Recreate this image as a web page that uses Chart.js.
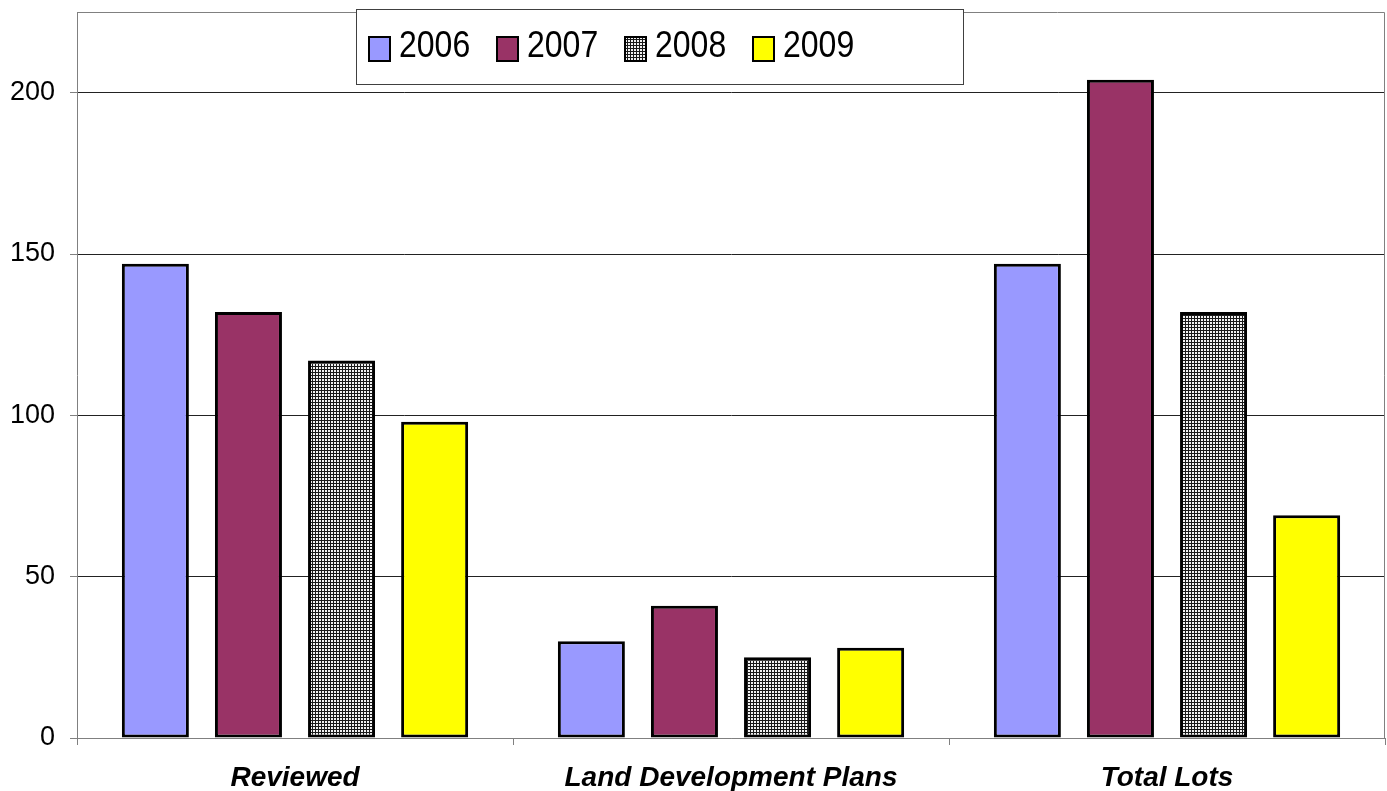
<!DOCTYPE html>
<html>
<head>
<meta charset="utf-8">
<script src="https://cdn.jsdelivr.net/npm/chart.js@4.4.1/dist/chart.umd.min.js"></script>
<style>
  html, body { margin: 0; padding: 0; background: #fff; }
  #wrap { width: 1387px; height: 791px; position: relative; }
</style>
</head>
<body>
<div id="wrap"><canvas id="c" width="1387" height="791"></canvas></div>
<script>
const categories = ['Reviewed', 'Land Development Plans', 'Total Lots'];
const seriesLabels = ['2006', '2007', '2008', '2009'];
const values2006 = [147, 30, 147];
const values2007 = [132, 41, 204];
const values2008 = [117, 25, 132];
const values2009 = [98, 28, 69];
const yTicks = [0, 50, 100, 150, 200];
const yMax = 225;

function makePattern() {
  const t = document.createElement('canvas');
  t.width = 3; t.height = 3;
  const g = t.getContext('2d');
  g.fillStyle = '#f2f2f2';
  g.fillRect(0, 0, 3, 3);
  g.fillStyle = '#1a1a1a';
  g.fillRect(0, 0, 3, 1);
  g.fillRect(0, 0, 1, 3);
  return document.getElementById('c').getContext('2d').createPattern(t, 'repeat');
}
const pattern2008 = makePattern();
const fills = ['#9999FF', '#993366', pattern2008, '#FFFF00'];
const seriesValues = [values2006, values2007, values2008, values2009];

const datasets = seriesLabels.map((lab, i) => ({
  label: lab,
  data: seriesValues[i],
  backgroundColor: fills[i],
  borderColor: '#000',
  borderWidth: 3,
  borderSkipped: false,
  categoryPercentage: 0.854,
  barPercentage: 0.72
}));

const frameAndLegend = {
  id: 'frameAndLegend',
  afterDraw(chart) {
    const ctx = chart.ctx;
    const a = chart.chartArea;
    ctx.save();
    ctx.strokeStyle = '#808080';
    ctx.lineWidth = 1;
    ctx.beginPath();
    ctx.moveTo(a.left, a.top + 0.5);
    ctx.lineTo(a.right - 0.5, a.top + 0.5);
    ctx.lineTo(a.right - 0.5, a.bottom);
    ctx.stroke();
    const bx = 356, by = 9, bw = 607, bh = 75;
    ctx.fillStyle = '#fff';
    ctx.fillRect(bx, by, bw, bh);
    ctx.strokeStyle = '#404040';
    ctx.strokeRect(bx + 0.5, by + 0.5, bw, bh);
    ctx.font = '32px "Liberation Sans", Arial, sans-serif';
    ctx.textBaseline = 'middle';
    ctx.textAlign = 'left';
    chart.data.datasets.forEach((ds, i) => {
      const sx = 369 + i * 128;
      const sy = 37;
      ctx.fillStyle = ds.backgroundColor;
      ctx.fillRect(sx, sy, 21, 24);
      ctx.strokeStyle = '#000';
      ctx.lineWidth = 2;
      ctx.strokeRect(sx, sy, 21, 24);
      ctx.fillStyle = '#000';
      ctx.save();
      ctx.translate(sx + 30, 47);
      ctx.scale(1, 1.15);
      ctx.fillText(ds.label, 0, 0);
      ctx.restore();
    });
    ctx.restore();
  }
};

new Chart(document.getElementById('c'), {
  type: 'bar',
  data: { labels: categories, datasets },
  options: {
    responsive: false,
    animation: false,
    layout: { padding: { left: 9, right: 2, top: 12, bottom: 0 } },
    plugins: { legend: { display: false }, tooltip: { enabled: false } },
    scales: {
      x: {
        afterFit: (s) => { s.height = 53; s.paddingLeft = 0; s.paddingRight = 0; },
        grid: { drawOnChartArea: false, drawTicks: true, tickLength: 7, color: '#808080', offset: true },
        border: { color: '#808080', width: 1 },
        ticks: {
          color: '#000',
          padding: 19,
          maxRotation: 0,
          font: { family: '"Liberation Sans", Arial, sans-serif', size: 28, weight: 'bold', style: 'italic', lineHeight: 1 }
        }
      },
      y: {
        min: 0,
        max: yMax,
        afterBuildTicks: (scale) => { scale.ticks = yTicks.map(v => ({ value: v })); },
        afterFit: (s) => { s.width = 68; s.paddingTop = 0; s.paddingBottom = 0; },
        grid: {
          color: (c) => c.tick && c.tick.value === 0 ? '#808080' : '#222',
          tickColor: '#808080',
          tickLength: 7
        },
        border: { color: '#808080', width: 1 },
        ticks: {
          color: '#000',
          padding: 15,
          font: { family: '"Liberation Sans", Arial, sans-serif', size: 27 }
        }
      }
    }
  },
  plugins: [frameAndLegend]
});
</script>
</body>
</html>
